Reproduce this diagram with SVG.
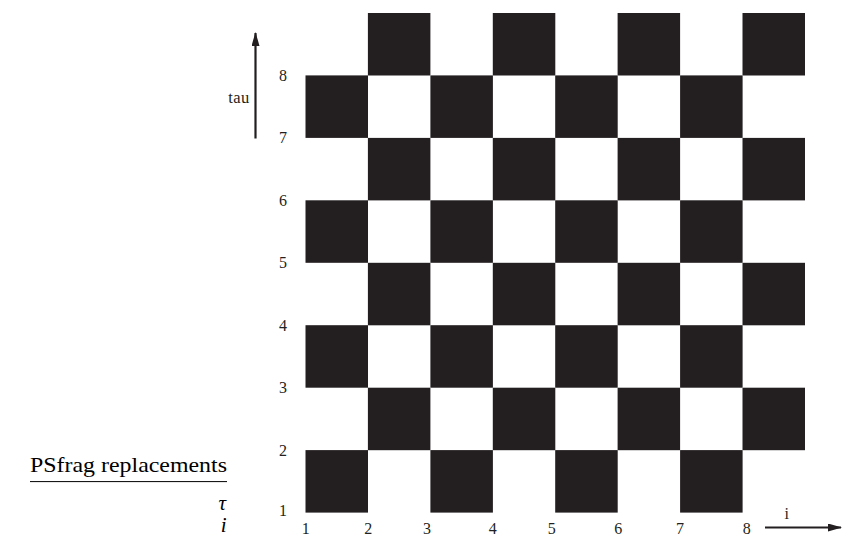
<svg xmlns="http://www.w3.org/2000/svg" width="842" height="536" viewBox="0 0 842 536">
<defs>
<style>
.b{fill:#231f20}
.t{font-family:"Liberation Serif","Times New Roman",serif;font-size:16px;fill:#231f20}
.m{font-family:"Liberation Serif","Times New Roman",serif;font-size:21px;fill:#000;font-style:italic}
.ax{stroke:#231f20;stroke-width:2.2;fill:none}
</style>
<marker id="ah" markerWidth="14" markerHeight="8" refX="13" refY="4" orient="auto" markerUnits="userSpaceOnUse">
<path d="M0,0 L14,4 L0,8 z" fill="#231f20"/>
</marker>
</defs>
<rect width="842" height="536" fill="#fff"/>
<g id="board">
<rect class="b" x="367.9" y="13" width="62.5" height="62.5"/>
<rect class="b" x="492.8" y="13" width="62.5" height="62.5"/>
<rect class="b" x="617.6" y="13" width="62.5" height="62.5"/>
<rect class="b" x="742.5" y="13" width="62.5" height="62.5"/>
<rect class="b" x="305.5" y="75.4" width="62.5" height="62.5"/>
<rect class="b" x="430.4" y="75.4" width="62.5" height="62.5"/>
<rect class="b" x="555.2" y="75.4" width="62.5" height="62.5"/>
<rect class="b" x="680.1" y="75.4" width="62.5" height="62.5"/>
<rect class="b" x="367.9" y="137.9" width="62.5" height="62.5"/>
<rect class="b" x="492.8" y="137.9" width="62.5" height="62.5"/>
<rect class="b" x="617.6" y="137.9" width="62.5" height="62.5"/>
<rect class="b" x="742.5" y="137.9" width="62.5" height="62.5"/>
<rect class="b" x="305.5" y="200.3" width="62.5" height="62.5"/>
<rect class="b" x="430.4" y="200.3" width="62.5" height="62.5"/>
<rect class="b" x="555.2" y="200.3" width="62.5" height="62.5"/>
<rect class="b" x="680.1" y="200.3" width="62.5" height="62.5"/>
<rect class="b" x="367.9" y="262.8" width="62.5" height="62.5"/>
<rect class="b" x="492.8" y="262.8" width="62.5" height="62.5"/>
<rect class="b" x="617.6" y="262.8" width="62.5" height="62.5"/>
<rect class="b" x="742.5" y="262.8" width="62.5" height="62.5"/>
<rect class="b" x="305.5" y="325.2" width="62.5" height="62.5"/>
<rect class="b" x="430.4" y="325.2" width="62.5" height="62.5"/>
<rect class="b" x="555.2" y="325.2" width="62.5" height="62.5"/>
<rect class="b" x="680.1" y="325.2" width="62.5" height="62.5"/>
<rect class="b" x="367.9" y="387.7" width="62.5" height="62.5"/>
<rect class="b" x="492.8" y="387.7" width="62.5" height="62.5"/>
<rect class="b" x="617.6" y="387.7" width="62.5" height="62.5"/>
<rect class="b" x="742.5" y="387.7" width="62.5" height="62.5"/>
<rect class="b" x="305.5" y="450.1" width="62.5" height="62.5"/>
<rect class="b" x="430.4" y="450.1" width="62.5" height="62.5"/>
<rect class="b" x="555.2" y="450.1" width="62.5" height="62.5"/>
<rect class="b" x="680.1" y="450.1" width="62.5" height="62.5"/>
</g>
<g id="ylabels" class="t" text-anchor="middle">
<text x="283" y="80.5">8</text>
<text x="283" y="143">7</text>
<text x="283" y="205.5">6</text>
<text x="283" y="268">5</text>
<text x="283" y="330.5">4</text>
<text x="283" y="393">3</text>
<text x="283" y="455.5">2</text>
<text x="283" y="515.5">1</text>
</g>
<g id="xlabels" class="t" text-anchor="middle">
<text x="305.7" y="534">1</text>
<text x="368.3" y="534">2</text>
<text x="427" y="534">3</text>
<text x="492.7" y="534">4</text>
<text x="551.7" y="534">5</text>
<text x="618.3" y="534">6</text>
<text x="680" y="534">7</text>
<text x="746.7" y="534">8</text>
</g>
<g id="connectors">
<line class="ax" x1="255.5" y1="138.5" x2="255.5" y2="33" marker-end="url(#ah)"/>
<line class="ax" x1="765" y1="527.5" x2="841" y2="527.5" marker-end="url(#ah)"/>
</g>
<g id="axis-labels" class="t">
<text x="228.3" y="103.3" font-size="16.5" textLength="21">tau</text>
<text x="786.7" y="519" text-anchor="middle">i</text>
</g>
<g id="psfrag">
<text x="30" y="472" class="t" style="font-size:22px;fill:#000" textLength="197" lengthAdjust="spacingAndGlyphs">PSfrag replacements</text>
<line x1="30" y1="481.6" x2="227" y2="481.6" stroke="#000" stroke-width="1"/>
<text x="226" y="510" class="m" text-anchor="end">τ</text>
<text x="226.5" y="532" class="m" text-anchor="end">i</text>
</g>
</svg>
